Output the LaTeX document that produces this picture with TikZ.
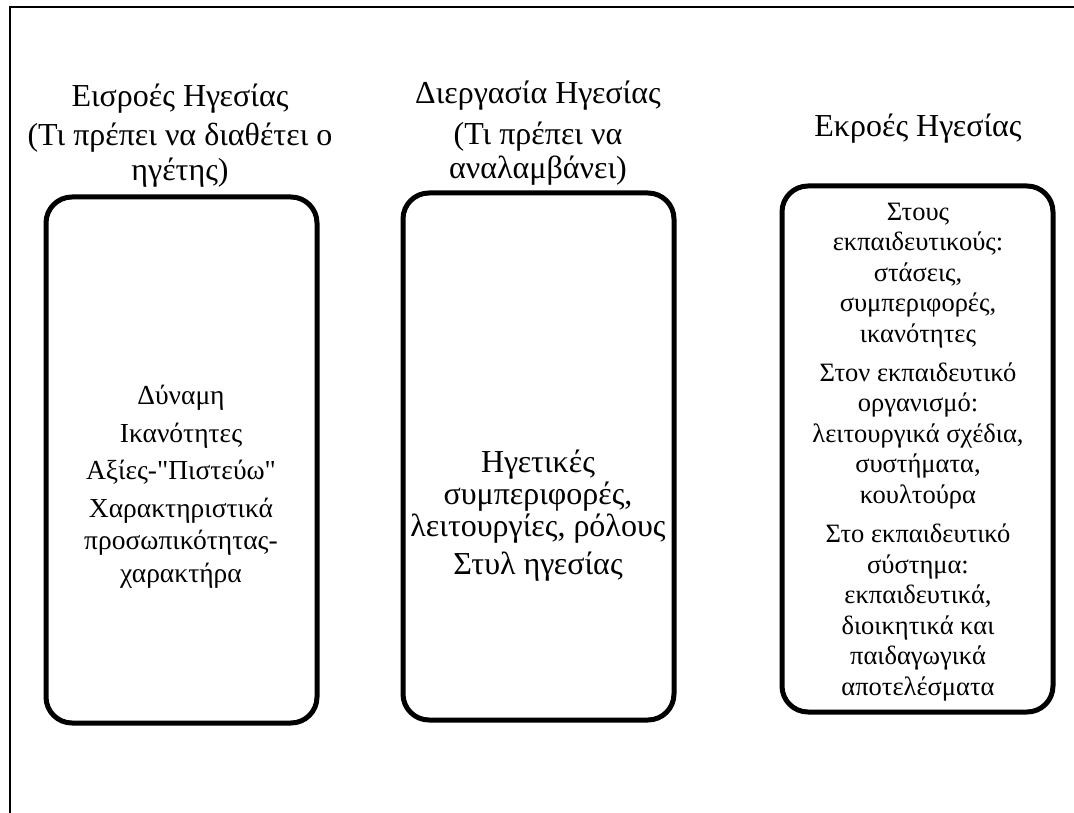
\documentclass[tikz,border=0pt]{standalone}
\usepackage{fontspec}
\setmainfont{Liberation Serif}[Ligatures=TeXOff]
\begin{document}
\begin{tikzpicture}[x=1pt,y=-1pt,
  txt/.style={align=center,inner sep=0pt,anchor=base,font=\fontsize{32}{32}\selectfont},
  panel/.style={draw,line width=5pt,rounded corners=26pt,minimum width=271pt,inner sep=0pt},
  frameline/.style={line width=2pt}]
\useasboundingbox (0,0) rectangle (1074,813);
% frame
\coordinate (fb) at (9.5,813);
\coordinate (ftl) at (9.5,7);
\coordinate (ftr) at (1074,7);
\draw[frameline] (fb) -- (ftl) -- (ftr);
% headings (anchor = baseline of last line)
\node[txt,font=\fontsize{32}{35}\selectfont] (h1) at (180,181) {Εισροές Ηγεσίας\\[4pt](Τι πρέπει να διαθέτει ο\\ηγέτης)};
\node[txt,font=\fontsize{32}{34}\selectfont] (h2) at (538,179) {Διεργασία Ηγεσίας\\[7pt](Τι πρέπει να\\αναλαμβάνει)};
\node[txt] (h3) at (918,137) {Εκροές Ηγεσίας};
% panels
\node[panel,minimum height=526pt] (b1) at (181.5,460) {};
\node[panel,minimum height=527pt] (b2) at (538.5,456.5) {};
\node[panel,minimum height=526pt] (b3) at (917.5,449) {};
% contents
\node[txt,font=\fontsize{27.5}{32.5}\selectfont] (t1) at (181,582) {Δύναμη\\[5pt]Ικανότητες\\[5pt]Αξίες-"Πιστεύω"\\[5pt]Χαρακτηριστικά\\προσωπικότητας-\\χαρακτήρα};
\node[txt] (t2) at (538,574) {Ηγετικές\\συμπεριφορές,\\λειτουργίες, ρόλους\\[6pt]Στυλ ηγεσίας};
\node[txt,font=\fontsize{26.5}{30.5}\selectfont] (t3) at (918,695) {Στους\\εκπαιδευτικούς:\\στάσεις,\\συμπεριφορές,\\ικανότητες\\[8.75pt]Στον εκπαιδευτικό\\οργανισμό:\\λειτουργικά σχέδια,\\συστήματα,\\κουλτούρα\\[8.75pt]Στο εκπαιδευτικό\\σύστημα:\\εκπαιδευτικά,\\διοικητικά και\\παιδαγωγικά\\αποτελέσματα};
\end{tikzpicture}
\end{document}
